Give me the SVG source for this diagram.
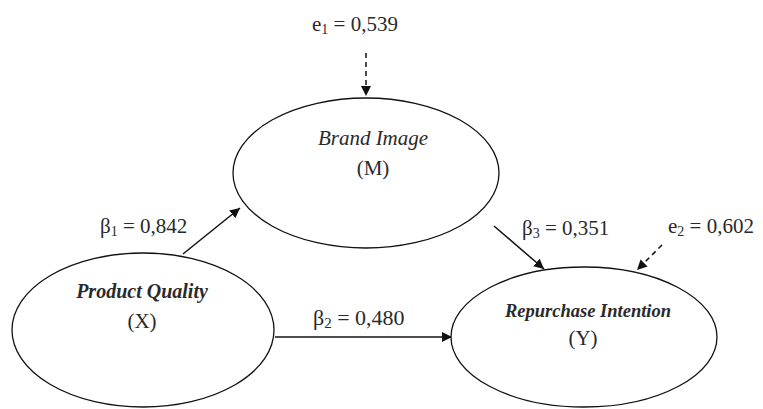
<svg xmlns="http://www.w3.org/2000/svg" width="763" height="409" viewBox="0 0 763 409">
<style>
.node{fill:#fff;stroke:#111;stroke-width:1.3}
.edge{stroke:#111;stroke-width:1.5;fill:none}
.dash{stroke:#111;stroke-width:1.5;fill:none;stroke-dasharray:5 4}
text{font-family:"Liberation Serif","Times New Roman",serif;fill:#2a2a2a}
.lbl{font-size:21px}
.nm{font-size:21px;font-style:italic}
.nmb{font-size:20px;font-style:italic;font-weight:bold}
.id{font-size:21px}
</style>
<defs>
<marker id="ah" viewBox="0 0 10 10" refX="10" refY="5" markerWidth="10" markerHeight="10" markerUnits="userSpaceOnUse" orient="auto">
<path d="M0,0 L10,5 L0,10 Z" fill="#111"/>
</marker>
</defs>
<rect width="763" height="409" fill="#fff"/>
<g id="connectors">
<line class="dash" x1="366" y1="53" x2="366" y2="96" marker-end="url(#ah)"/>
<line class="edge" x1="183" y1="254" x2="240" y2="208" marker-end="url(#ah)"/>
<line class="edge" x1="494" y1="226" x2="544" y2="269" marker-end="url(#ah)"/>
<line class="edge" x1="275" y1="337" x2="452" y2="337" marker-end="url(#ah)"/>
<line class="dash" x1="662" y1="245" x2="637" y2="270" marker-end="url(#ah)"/>
</g>
<g id="node-brand-image">
<ellipse class="node" cx="366" cy="173" rx="133" ry="75"/>
<text class="nm" x="373" y="145" text-anchor="middle">Brand Image</text>
<text class="id" x="373" y="175" text-anchor="middle">(M)</text>
</g>
<g id="node-product-quality">
<ellipse class="node" cx="143" cy="330" rx="131" ry="77"/>
<text class="nmb" x="142" y="298" text-anchor="middle">Product Quality</text>
<text class="id" x="142" y="328" text-anchor="middle">(X)</text>
</g>
<g id="node-repurchase-intention">
<ellipse class="node" cx="584" cy="337" rx="133" ry="70"/>
<text class="nmb" x="588" y="317" text-anchor="middle" style="font-size:18.5px">Repurchase Intention</text>
<text class="id" x="583" y="345" text-anchor="middle">(Y)</text>
</g>
<g id="labels">
<text class="lbl" x="312" y="31">e<tspan font-size="14" dy="3">1</tspan><tspan dy="-3"> = 0,539</tspan></text>
<text class="lbl" x="100" y="233">β<tspan font-size="14" dy="3">1</tspan><tspan dy="-3"> = 0,842</tspan></text>
<text class="lbl" x="522" y="235">β<tspan font-size="14" dy="3">3</tspan><tspan dy="-3"> = 0,351</tspan></text>
<text class="lbl" x="668" y="233">e<tspan font-size="14" dy="3">2</tspan><tspan dy="-3"> = 0,602</tspan></text>
<text class="lbl" x="313" y="325" style="font-size:22px">β<tspan font-size="15" dy="3">2</tspan><tspan dy="-3"> = 0,480</tspan></text>
</g>
</svg>
